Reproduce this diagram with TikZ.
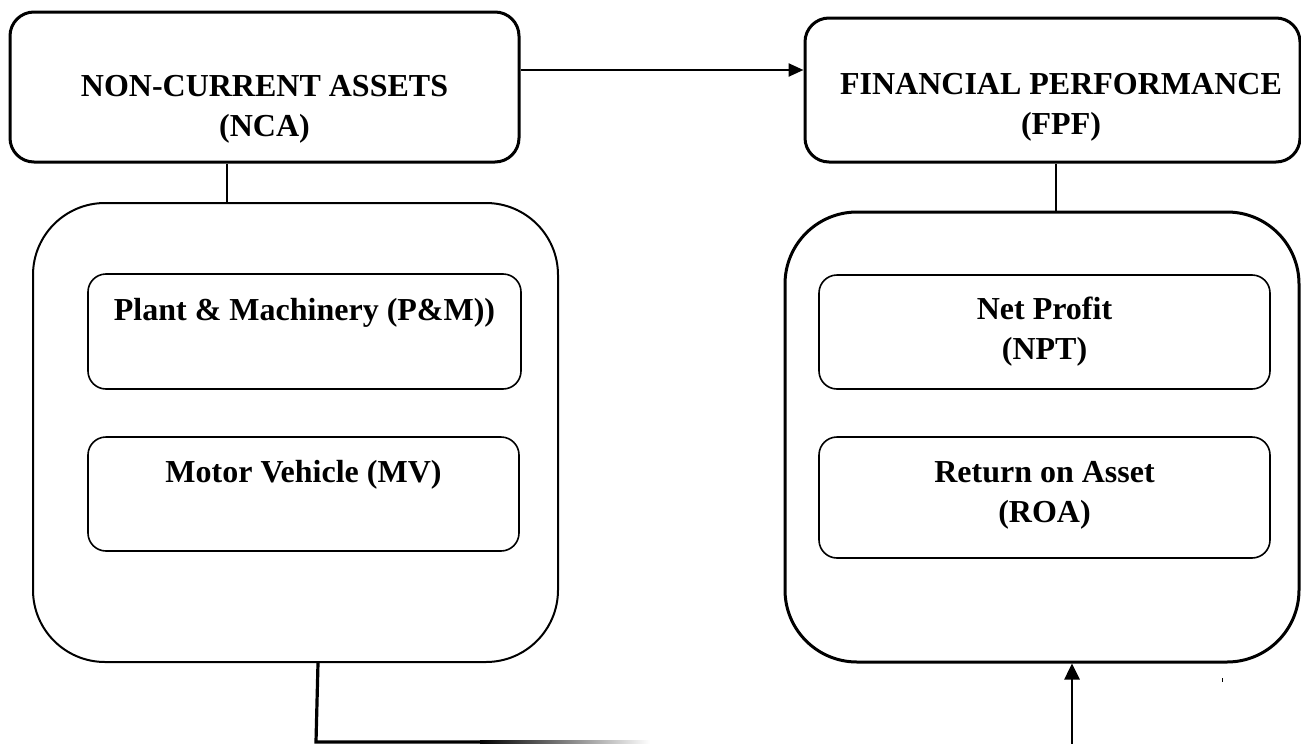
\documentclass[tikz,border=0pt]{standalone}
\usepackage{fontspec}
\setmainfont{Liberation Serif}
\usetikzlibrary{arrows.meta}
\tikzset{
	headbox/.style={draw, line width=3pt, rounded corners=24pt, inner sep=0pt},
	groupbox/.style={draw, line width=#1, rounded corners=72pt, inner sep=0pt},
	itembox/.style={draw, line width=1.6pt, rounded corners=18pt, inner sep=0pt},
	boxtext/.style={anchor=base, align=center, inner sep=0pt, font=\fontsize{32}{40}\selectfont\bfseries},
	link/.style={line width=#1}
}
\begin{document}
\begin{tikzpicture}[x=1pt, y=-1pt]
		\useasboundingbox (0,0) rectangle (1301,744);
		\node[headbox, minimum width=509pt, minimum height=150pt] (nca) at (264.5,87) {};
		\node[headbox, minimum width=495pt, minimum height=144pt] (fpf) at (1052.5,90) {};
		\node[groupbox=2pt, minimum width=525pt, minimum height=459pt] (ncagroup) at (295.5,432.5) {};
		\node[groupbox=3pt, minimum width=514pt, minimum height=450pt] (fpfgroup) at (1042,437) {};
		\node[itembox, minimum width=433pt, minimum height=115pt] (pm) at (304.5,331.5) {};
		\node[itembox, minimum width=431pt, minimum height=114pt] (mv) at (303.5,494) {};
		\node[itembox, minimum width=451pt, minimum height=114pt] (npt) at (1044.5,332) {};
		\node[itembox, minimum width=451pt, minimum height=121pt] (roa) at (1044.5,497.5) {};
		\node[boxtext] (ncatext) at ([yshift=-126pt]nca.north) {NON-CURRENT ASSETS\\(NCA)};
		\node[boxtext] (fpftext) at ([xshift=8.5pt, yshift=-118pt]fpf.north) {FINANCIAL PERFORMANCE\\(FPF)};
		\node[boxtext] (pmtext) at ([yshift=-47pt]pm.north) {Plant \& Machinery (P\&M))};
		\node[boxtext] (mvtext) at ([yshift=-46pt]mv.north) {Motor Vehicle (MV)};
		\node[boxtext] (npttext) at ([yshift=-85pt]npt.north) {Net Profit\\(NPT)};
		\node[boxtext] (roatext) at ([yshift=-86pt]roa.north) {Return on Asset\\(ROA)};
		\draw[link=2.4pt, -{Triangle[length=15pt, width=13pt]}] ([yshift=17pt]nca.east) -- ([yshift=20pt]fpf.west);
		\draw[link=1.4pt] ([xshift=-37.5pt]nca.south) -- ([xshift=-37.5pt]nca.south |- ncagroup.north);
		\draw[link=1.4pt] ([xshift=3.5pt]fpf.south) -- ([xshift=3.5pt]fpf.south |- fpfgroup.north);
		\coordinate (corner) at (316,742);
		\coordinate (fadeend) at (480,742);
		\coordinate (roabottom) at (1072,744);
		\draw[link=3.2pt] ([xshift=22.5pt]ncagroup.south) -- (corner) -- (fadeend);
		\shade[left color=black, right color=white] ([yshift=1.6pt]fadeend) rectangle (650,743.6);
		\draw[link=2.6pt, -{Triangle[length=16pt, width=15pt]}] (roabottom) -- (roabottom |- fpfgroup.south);
		\fill (1221.5,678) rectangle (1222.5,682);
	\end{tikzpicture}
\end{document}
